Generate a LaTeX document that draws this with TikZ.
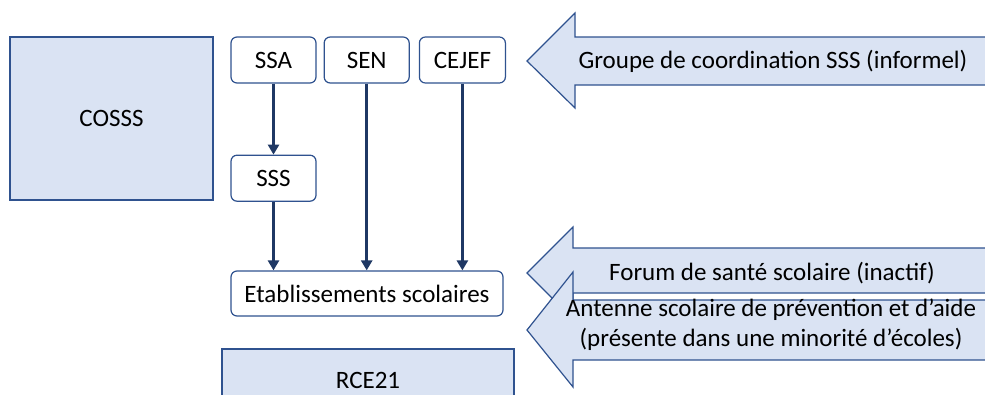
\documentclass[tikz,border=0pt]{standalone}
\usepackage{fontspec}
\setmainfont{Carlito}
\usetikzlibrary{arrows.meta, positioning}
\definecolor{paleblue}{RGB}{218,227,243}
\definecolor{edgeblue}{RGB}{47,82,143}
\definecolor{linkblue}{RGB}{31,56,100}

\begin{document}
\begin{tikzpicture}[
    x=1pt, y=-1pt,
    every node/.style={font=\fontsize{25}{30}\selectfont},
    block/.style={rectangle, draw=edgeblue, line width=1.2pt, fill=paleblue, align=center},
    unit/.style={rectangle, draw=edgeblue, line width=1.2pt, rounded corners=6pt, fill=white, minimum width=85pt, minimum height=46pt},
    link/.style={-{Triangle[length=10pt, width=11pt]}, line width=3pt, linkblue},
    banner/.style={draw=edgeblue, line width=1.2pt, fill=paleblue}
]
\useasboundingbox (0,0) rectangle (985,394);
\clip (0,0) rectangle (985,394);

% left and bottom blocks
\node[block, minimum width=203pt, minimum height=163pt] (cosss) at (111.5,118.5) {COSSS};
\node[block, minimum width=292pt, minimum height=62pt] (rce) at (368,380) {RCE21};

% services
\node[unit] (ssa) at (273.5,60) {SSA};
\node[unit, right=7pt of ssa] (sen) {SEN};
\node[unit, right=9pt of sen, minimum width=86pt] (cejef) {CEJEF};
\node[unit, below=71pt of ssa] (sss) {SSS};
\node[unit, minimum width=272pt, minimum height=45pt] (etab) at (367,293.5) {Etablissements scolaires};

\draw[link] (ssa) -- (sss);
\draw[link] (sss) -- (sss |- etab.north);
\draw[link] (sen) -- (sen |- etab.north);
\draw[link] (cejef) -- (cejef |- etab.north);

% big arrows coming from the right
\draw[banner] (527,61) -- (575,13) -- (575,37) -- (1000,37) -- (1000,85) -- (575,85) -- (575,108) -- cycle;
\node (groupe) at (773,61) {Groupe de coordination SSS (informel)};

\draw[banner] (527,273) -- (573,227) -- (573,248) -- (1000,248) -- (1000,293) -- (573,293) -- (573,319) -- cycle;
\node (forum) at (772,273) {Forum de santé scolaire (inactif)};

\draw[banner] (527,330) -- (573,272) -- (573,300) -- (1000,300) -- (1000,360) -- (573,360) -- (573,387) -- cycle;
\node[align=center] (antenne) at (771,325) {Antenne scolaire de prévention et d’aide\\(présente dans une minorité d’écoles)};
\end{tikzpicture}
\end{document}
